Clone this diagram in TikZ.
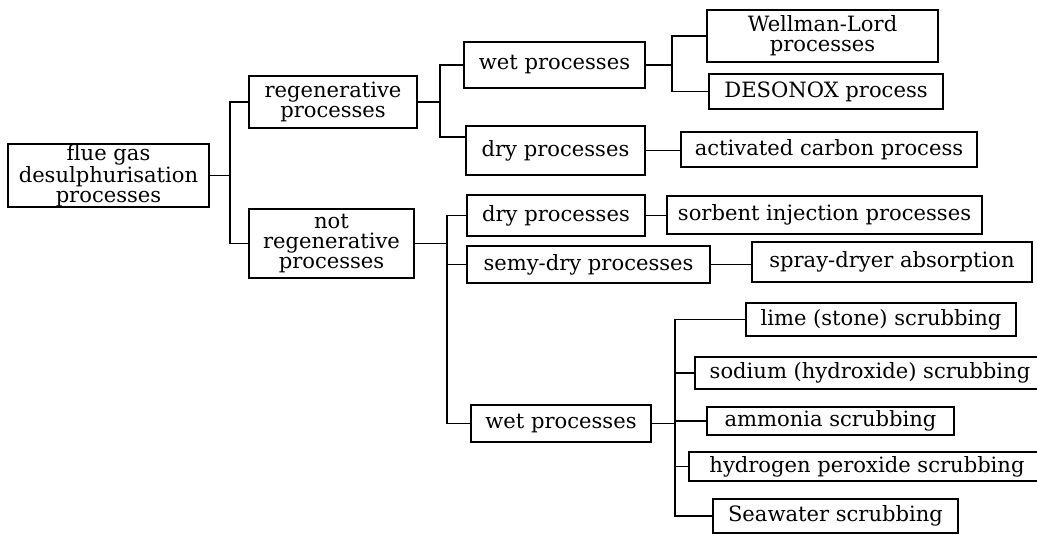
\documentclass[tikz,border=0pt]{standalone}
\usepackage{fontspec}
\setmainfont{DejaVu Serif}
\usetikzlibrary{calc}

\begin{document}
\begin{tikzpicture}[x=0.02cm, y=-0.02cm,
  box/.style={draw, line width=1.1pt, inner sep=0pt, align=center,
    font=\fontsize{12}{11.4}\selectfont},
  link/.style={line width=1.1pt}]
  \useasboundingbox (0,0) rectangle (1037,534);
  \clip (0,0) rectangle (1037,534);

  % Root
  \node[box, minimum width=4.02cm, minimum height=1.26cm] (fgd) at (108.5,175.5) {flue gas\\desulphurisation\\processes};

  % First level
  \node[box, minimum width=3.36cm, minimum height=1.04cm] (regen) at (333,102) {regenerative\\processes};
  \node[box, minimum width=3.30cm, minimum height=1.38cm] (notregen) at (331.5,243.5) {not\\regenerative\\processes};

  % Regenerative branch
  \node[box, minimum width=3.62cm, minimum height=0.92cm] (wet1) at (554.5,65) {wet processes};
  \node[box, minimum width=3.58cm, minimum height=0.98cm] (dry1) at (555.5,150.5) {dry processes};
  \node[box, minimum width=4.62cm, minimum height=1.04cm] (wl) at (822.5,36) {Wellman-Lord\\processes};
  \node[box, minimum width=4.68cm, minimum height=0.70cm] (deso) at (826,91.5) {DESONOX process};
  \node[box, minimum width=5.92cm, minimum height=0.70cm] (actc) at (829,149.5) {activated carbon process};

  % Not regenerative branch
  \node[box, minimum width=3.56cm, minimum height=0.82cm] (dry2) at (556,215.5) {dry processes};
  \node[box, minimum width=6.30cm, minimum height=0.76cm] (sorb) at (824.5,215) {sorbent injection processes};
  \node[box, minimum width=4.86cm, minimum height=0.74cm] (semy) at (588.5,264.5) {semy-dry processes};
  \node[box, minimum width=5.60cm, minimum height=0.80cm] (spray) at (892,262) {spray-dryer absorption};
  \node[box, minimum width=3.60cm, minimum height=0.74cm] (wet2) at (561,423.5) {wet processes};

  % Wet scrubbing
  \node[box, minimum width=5.40cm, minimum height=0.66cm] (lime) at (881,319.5) {lime (stone) scrubbing};
  \node[box, minimum width=7.00cm, minimum height=0.64cm] (sodium) at (870,373) {sodium (hydroxide) scrubbing};
  \node[box, minimum width=4.94cm, minimum height=0.56cm] (ammonia) at (830.5,421) {ammonia scrubbing};
  \node[box, minimum width=7.12cm, minimum height=0.58cm] (hydro) at (867,466.5) {hydrogen peroxide scrubbing};
  \node[box, minimum width=4.90cm, minimum height=0.68cm] (sea) at (835.5,516) {Seawater scrubbing};

  % Joints
  \coordinate (j1) at (230,175.5);
  \coordinate (j2) at (440,102);
  \coordinate (j3) at (672,65);
  \coordinate (j4) at (447,243.5);
  \coordinate (j5) at (675,423.5);

  % Connectors
  \draw[link] (fgd.east) -- (j1);
  \draw[link] (regen.west) -| (j1) |- (notregen.west);

  \draw[link] (regen.east) -- (j2);
  \draw[link] (wet1.west) -| (j2) |- ([yshift=0.27cm]dry1.west);
  \draw[link] (wet1.east) -- (j3);
  \draw[link] (wl.west) -| (j3) |- (deso.west);
  \draw[link] (dry1.east) -- (dry1.east -| actc.west);

  \draw[link] (notregen.east) -- (j4);
  \draw[link] (dry2.west) -| (j4) |- (wet2.west);
  \draw[link] (semy.west) -- (semy.west -| j4);
  \draw[link] (dry2.east) -- (dry2.east -| sorb.west);
  \draw[link] (semy.east) -- (semy.east -| spray.west);

  \draw[link] (wet2.east) -- (j5);
  \draw[link] (lime.west) -| (j5) |- (sea.west);
  \draw[link] (sodium.west) -- (sodium.west -| j5);
  \draw[link] (ammonia.west) -- (ammonia.west -| j5);
  \draw[link] (hydro.west) -- (hydro.west -| j5);
\end{tikzpicture}
\end{document}
